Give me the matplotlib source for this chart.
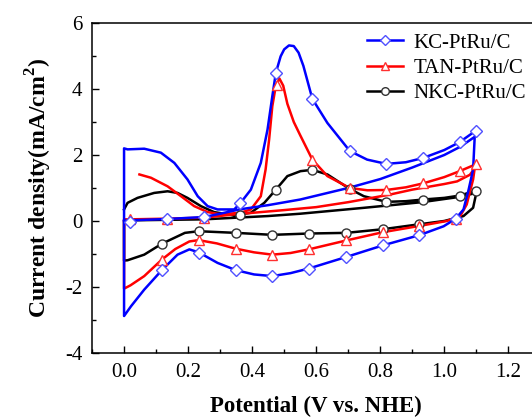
import matplotlib
matplotlib.use("Agg")
import matplotlib.pyplot as plt
from matplotlib.ticker import MultipleLocator

plt.rcParams["font.family"] = ["Liberation Serif", "DejaVu Serif"]
plt.rcParams["mathtext.fontset"] = "custom"
plt.rcParams["mathtext.rm"] = "Liberation Serif"
plt.rcParams["mathtext.bf"] = "Liberation Serif:bold"

# KC-PtRu/C (blue) - one closed CV path
kc_x = [0.0, 0.02, 0.134, 0.25, 0.30, 0.36, 0.45, 0.55, 0.70, 0.80, 0.90, 1.0, 1.05, 1.095,
        1.09, 1.076, 1.06, 1.036, 0.998, 0.922, 0.808, 0.694, 0.577, 0.52, 0.463, 0.406, 0.349,
        0.292, 0.233, 0.204, 0.167, 0.118, 0.063, 0.022, 0.0,
        0.0, 0.011, 0.063, 0.115, 0.157, 0.198, 0.230, 0.261, 0.292, 0.344, 0.364, 0.396, 0.427,
        0.448, 0.463, 0.474, 0.489, 0.50, 0.515, 0.53, 0.545, 0.56, 0.588, 0.635, 0.705, 0.759,
        0.819, 0.88, 0.934, 1.0, 1.048, 1.099]
kc_y = [0.0, 0.02, 0.06, 0.12, 0.22, 0.35, 0.48, 0.65, 1.0, 1.27, 1.62, 2.0, 2.25, 2.55,
        1.56, 0.95, 0.35, 0.07, -0.16, -0.43, -0.74, -1.09, -1.44, -1.58, -1.67, -1.62, -1.49,
        -1.27, -0.95, -0.86, -1.02, -1.49, -2.08, -2.58, -2.88,
        2.2, 2.17, 2.19, 2.07, 1.76, 1.26, 0.75, 0.45, 0.35, 0.35, 0.55, 0.95, 1.76,
        2.77, 3.78, 4.49, 4.99, 5.2, 5.32, 5.3, 5.1, 4.7, 3.70, 2.97, 2.12, 1.86,
        1.73, 1.78, 1.91, 2.15, 2.39, 2.74]
kc_mx = [0.02, 0.134, 0.25, 0.362, 0.474, 0.588, 0.705, 0.819, 0.934, 1.048, 1.099,
         1.036, 0.922, 0.808, 0.694, 0.577, 0.463, 0.349, 0.233, 0.118]
kc_my = [-0.03, 0.06, 0.12, 0.53, 4.49, 3.70, 2.12, 1.73, 1.91, 2.39, 2.74,
         0.07, -0.43, -0.74, -1.09, -1.44, -1.67, -1.49, -0.98, -1.49]

# TAN-PtRu/C (red)
tan_x = [0.048, 0.084, 0.136, 0.178, 0.219, 0.261, 0.302, 0.364, 0.396, 0.427, 0.442, 0.453,
         0.463, 0.474, 0.485, 0.497, 0.51, 0.53, 0.55, 0.588, 0.635, 0.705, 0.76, 0.819, 0.88,
         0.934, 1.0, 1.048, 1.099,
         1.095, 1.09, 1.07, 1.05, 1.008, 0.922, 0.808, 0.694, 0.577, 0.52, 0.463, 0.406, 0.349,
         0.29, 0.233, 0.204, 0.16, 0.118, 0.063, 0.02, 0.0,
         0.0, 0.02, 0.134, 0.25, 0.344, 0.5, 0.6, 0.70, 0.83, 0.90, 1.0, 1.04, 1.08, 1.095]
tan_y = [1.41, 1.31, 1.05, 0.75, 0.45, 0.27, 0.20, 0.25, 0.35, 0.75, 1.56, 2.47,
         3.48, 4.1, 4.32, 4.1, 3.55, 3.0, 2.6, 1.86, 1.36, 1.0, 0.93, 0.94, 1.02,
         1.14, 1.33, 1.51, 1.72,
         1.6, 1.26, 0.5, 0.15, 0.0, -0.15, -0.34, -0.59, -0.86, -0.97, -1.02, -0.95, -0.84,
         -0.68, -0.58, -0.62, -0.85, -1.17, -1.67, -1.95, -2.05,
         0.05, 0.05, 0.07, 0.1, 0.2, 0.33, 0.42, 0.57, 0.80, 0.95, 1.12, 1.2, 1.4, 1.6]
tan_mx = [0.02, 0.134, 0.25, 0.477, 0.588, 0.705, 0.819, 0.934, 1.048, 1.099,
          1.036, 0.922, 0.808, 0.694, 0.577, 0.463, 0.349, 0.233, 0.118]
tan_my = [0.05, 0.07, 0.1, 4.12, 1.86, 1.0, 0.94, 1.14, 1.51, 1.72,
          0.05, -0.15, -0.34, -0.59, -0.86, -1.02, -0.84, -0.58, -1.17]

# NKC-PtRu/C (black)
nkc_x = [0.0, 0.011, 0.042, 0.094, 0.136, 0.167, 0.198, 0.24, 0.281, 0.344, 0.396, 0.438,
         0.474, 0.51, 0.551, 0.588, 0.635, 0.705, 0.749, 0.819, 0.88, 0.934, 1.0, 1.048, 1.099,
         1.1, 1.09, 1.06, 1.0, 0.922, 0.808, 0.694, 0.577, 0.463, 0.349, 0.233, 0.19, 0.118,
         0.063, 0.011, 0.0,
         0.0, 0.02, 0.25, 0.45, 0.55, 0.75, 0.93, 1.04, 1.1]
nkc_y = [0.35, 0.55, 0.70, 0.85, 0.90, 0.85, 0.70, 0.45, 0.27, 0.17, 0.25, 0.55,
         0.95, 1.36, 1.51, 1.55, 1.41, 0.97, 0.75, 0.58, 0.60, 0.65, 0.70, 0.77, 0.92,
         0.85, 0.40, 0.15, 0.0, -0.1, -0.25, -0.36, -0.38, -0.42, -0.36, -0.31, -0.36, -0.69,
         -1.02, -1.19, -1.2,
         0.02, 0.02, 0.05, 0.15, 0.22, 0.40, 0.57, 0.72, 0.85]
nkc_mx = [0.362, 0.474, 0.588, 0.705, 0.819, 0.934, 1.048, 1.099,
          0.922, 0.808, 0.694, 0.577, 0.463, 0.349, 0.233, 0.118]
nkc_my = [0.17, 0.95, 1.55, 0.97, 0.58, 0.65, 0.77, 0.92,
          -0.1, -0.24, -0.36, -0.39, -0.42, -0.36, -0.31, -0.69]

labels = ["KC-PtRu/C", "TAN-PtRu/C", "NKC-PtRu/C"]
xtick_vals = [0.0, 0.2, 0.4, 0.6, 0.8, 1.0, 1.2]
ytick_vals = [-4, -2, 0, 2, 4, 6]

fig = plt.figure(figsize=(5.32, 4.17), dpi=100)
ax = fig.add_axes([0.173, 0.1535, 0.8427, 0.7914])

series = [
    (nkc_x, nkc_y, nkc_mx, nkc_my, "black", "o", 6.5, "#333333", labels[2]),
    (tan_x, tan_y, tan_mx, tan_my, "#ff0000", "^", 7, "#ff3030", labels[1]),
    (kc_x, kc_y, kc_mx, kc_my, "#0000ff", "D", 6, "#5050ff", labels[0]),
]
handles = {}
for x, y, mx, my, c, m, ms, ec, lab in series:
    ax.plot(x, y, color=c, lw=1.8, zorder=2)
    ax.plot(mx, my, ls="none", marker=m, ms=ms, mfc="white", mec=ec, mew=1.0, zorder=3)
    h, = ax.plot([], [], color=c, lw=1.8, marker=m, ms=ms - 1, mfc="white", mec=ec, mew=1.0)
    handles[lab] = h

ax.set_xlim(-0.1, 1.3)
ax.set_ylim(-4, 6)
ax.xaxis.set_minor_locator(MultipleLocator(0.1))
ax.yaxis.set_minor_locator(MultipleLocator(1))
ax.set_xticks(xtick_vals)
ax.set_xticklabels([f"{v:.1f}" for v in xtick_vals])
ax.set_yticks(ytick_vals)
ax.set_yticklabels([str(v) for v in ytick_vals])
ax.tick_params(which="both", direction="in", labelsize=15, width=1, pad=7)
ax.tick_params(which="major", length=5)
ax.tick_params(which="minor", length=3)
for s in ax.spines.values():
    s.set_linewidth(1.1)

ax.set_xlabel("Potential (V vs. NHE)", fontsize=16.5, fontweight="bold", labelpad=10)
ax.set_ylabel(r"Current density(mA/cm$^{\mathbf{2}}$)", fontsize=17, fontweight="bold", labelpad=8)

ax.legend([handles[l] for l in labels], labels, loc="upper left",
          bbox_to_anchor=(367 / 532, 1 - 33 / 417), bbox_transform=fig.transFigure,
          frameon=False, fontsize=15, handlelength=1.75, handletextpad=0.5,
          labelspacing=0.28, borderpad=0, borderaxespad=0)

fig.savefig("out.png", dpi=100)
